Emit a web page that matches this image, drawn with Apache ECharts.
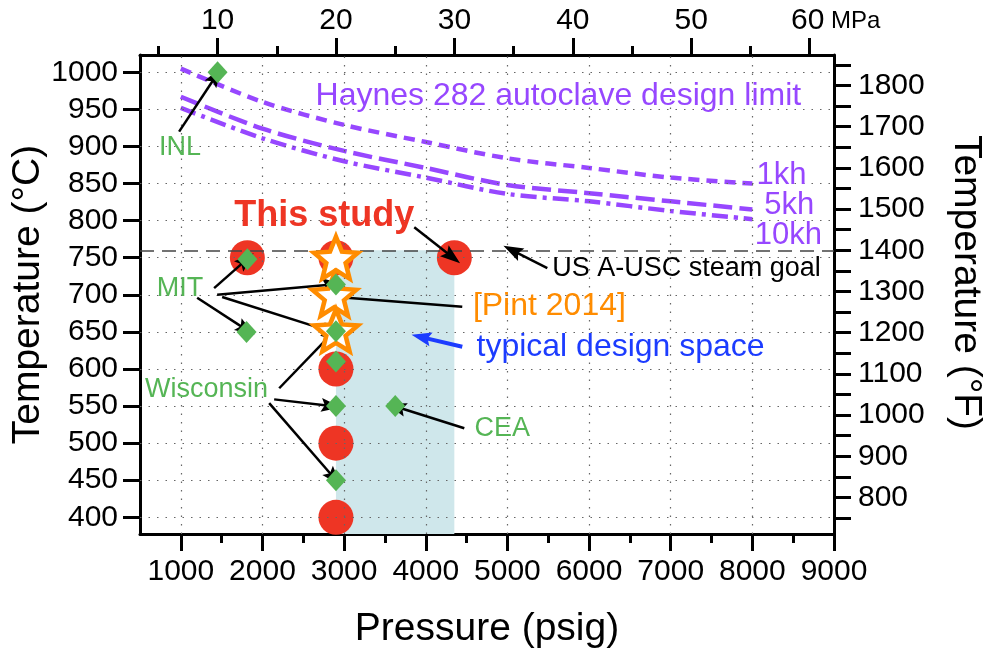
<!DOCTYPE html>
<html>
<head>
<meta charset="utf-8">
<script src="https://cdn.jsdelivr.net/npm/echarts@6/dist/echarts.min.js"></script>
<style>
  html, body { margin: 0; background: #fff; }
  #chart { width: 987px; height: 655px; }
</style>
</head>
<body>
<div id="chart"></div>
<script>
const FONT = '"Liberation Sans", Arial, Helvetica, sans-serif';

// axis extents (psig, degC) and tick values
const psigRange = [500, 9000];
const tempRange = [377.5, 1023.3];
const psigTicks = [1000, 2000, 3000, 4000, 5000, 6000, 7000, 8000, 9000];
const psigMinorTicks = [1500, 2500, 3500, 4500, 5500, 6500, 7500, 8500];
const mpaTicks = [10, 20, 30, 40, 50, 60];
const mpaMinorTicks = [5, 15, 25, 35, 45, 55];
const tempCTicks = [400, 450, 500, 550, 600, 650, 700, 750, 800, 850, 900, 950, 1000];
const tempFTicks = [750, 800, 850, 900, 950, 1000, 1050, 1100, 1150, 1200, 1250, 1300,
  1350, 1400, 1450, 1500, 1550, 1600, 1650, 1700, 1750, 1800, 1850];
const tempFLabels = [800, 900, 1000, 1100, 1200, 1300, 1400, 1500, 1600, 1700, 1800];

// Haynes 282 autoclave design limit curves
const haynesPsig = [1000, 2000, 3000, 4000, 5000, 6000, 7000, 8000];
const haynes1kh = [1005, 960, 929, 906, 884, 871, 858, 850];
const haynes5kh = [967, 924, 894, 871, 848, 837, 826, 815];
const haynes10kh = [952, 911, 880, 858, 836, 826, 813, 802];

// test points [psig, degC]
const thisStudy = [[1815, 750], [2900, 750], [4350, 750], [2900, 600], [2900, 500], [2900, 400]];
const pint2014 = [[2900, 750], [2880, 700], [2900, 652]];
const inl = [[1450, 1000]];
const mit = [[1815, 748], [1805, 650], [2900, 714], [2900, 651]];
const wisconsin = [[2900, 610], [2900, 550], [2900, 450]];
const cea = [[3626, 550]];

const designSpacePsig = [2900, 4350];
const uscGoal = 760;

// annotations: text, psig, degC, style
const notes = [
  ['INL', 990, 898, 'green'],
  ['MIT', 991, 708, 'green'],
  ['Wisconsin', 1315, 572, 'green'],
  ['CEA', 4938, 520, 'green'],
  ['Haynes 282 autoclave design limit', 5624, 968, 'purple'],
  ['1kh', 8357, 861, 'purple'],
  ['5kh', 8453, 821, 'purple'],
  ['10kh', 8440, 780, 'purple'],
  ['This study', 2756, 806, 'red'],
  ['US A-USC steam goal', 7194, 736, 'black'],
  ['[Pint 2014]', 5514, 685, 'orange'],
  ['typical design space', 6386, 629, 'blue']
];

// arrows: from, to (psig, degC)
const arrows = [
  [[979, 920], [1430, 995], 'black'],
  [[1408, 709], [1800, 747], 'black'],
  [[1445, 700], [2853, 714], 'black'],
  [[1506, 697], [2853, 650], 'black'],
  [[1200, 696], [1800, 653], 'black'],
  [[4447, 684], [2915, 697], 'black'],
  [[3859, 791], [4324, 751], 'black'],
  [[5489, 736], [5060, 760], 'black'],
  [[4447, 630], [3945, 643], 'blue'],
  [[2205, 574], [2853, 648], 'black'],
  [[2143, 559], [2842, 550], 'black'],
  [[2082, 554], [2878, 453], 'black'],
  [[4472, 520], [3638, 549], 'black']
];

const colors = {
  green: '#55b555',
  purple: '#9747ff',
  red: '#ee3524',
  orange: '#ff8c00',
  blue: '#1c3cff',
  black: '#000',
  area: '#cfe7eb'
};

const cToF = c => c * 9 / 5 + 32;
const psigToMpa = p => p / 145.038;

const STAR = 'path://M50,0 L62.93,32.2 L97.55,34.55 L70.92,56.8 L79.39,90.45 L50,72 L20.61,90.45 L29.08,56.8 L2.45,34.55 L37.07,32.2 Z';
const ARROW = 'path://M10,0 L20,28 L10,23 L0,28 Z';

const frameLine = { show: true, lineStyle: { color: '#000', width: 3 } };
const tickText = { color: '#000', fontSize: 30, fontFamily: FONT, formatter: v => String(v) };
const nameText = { color: '#000', fontSize: 39, fontFamily: FONT };
const majorTick = (values) => ({ show: true, length: 17, customValues: values, lineStyle: { color: '#000', width: 3 } });
const minorTick = (values) => ({ show: true, length: 9, customValues: values, lineStyle: { color: '#000', width: 3 } });

const chart = echarts.init(document.getElementById('chart'));

const curve = (temps, dash) => ({
  type: 'line',
  data: haynesPsig.map((p, i) => [p, temps[i]]),
  symbol: 'none',
  smooth: 0.3,
  z: 3,
  lineStyle: { color: colors.purple, width: 4.5, type: dash, cap: 'butt', opacity: 1 },
  silent: true
});

const diamonds = data => ({
  type: 'scatter',
  data: data,
  symbol: 'diamond',
  symbolSize: [20, 22],
  itemStyle: { color: colors.green, opacity: 1 },
  z: 6,
  silent: true
});

const option = {
  animation: false,
  backgroundColor: '#fff',
  grid: { left: 140, right: 153, top: 55, bottom: 121, containLabel: false, outerBoundsMode: 'none' },
  xAxis: [
    {
      type: 'value', position: 'bottom', min: psigRange[0], max: psigRange[1],
      axisLine: frameLine,
      axisTick: majorTick(psigTicks),
      axisLabel: Object.assign({ customValues: psigTicks, margin: 23 }, tickText),
      splitLine: { show: false },
      name: 'Pressure (psig)', nameLocation: 'middle', nameGap: 76, nameMoveOverlap: false,
      nameTextStyle: nameText
    },
    {
      type: 'value', position: 'bottom', min: psigRange[0], max: psigRange[1],
      axisLine: { show: false }, axisTick: minorTick(psigMinorTicks),
      axisLabel: { show: false }, splitLine: { show: false }
    },
    {
      type: 'value', position: 'top', min: psigToMpa(psigRange[0]), max: psigToMpa(psigRange[1]),
      axisLine: frameLine,
      axisTick: majorTick(mpaTicks),
      axisLabel: Object.assign({}, tickText, {
        customValues: mpaTicks, margin: 19,
        formatter: v => v === 60 ? '{pad| }{n|60}{u| MPa}' : String(v),
        rich: {
          pad: { width: 52, fontSize: 30, fontFamily: FONT },
          n: { fontSize: 30, fontFamily: FONT, color: '#000' },
          u: { fontSize: 24, fontFamily: FONT, color: '#000' }
        }
      }),
      splitLine: { show: false }
    },
    {
      type: 'value', position: 'top', min: psigToMpa(psigRange[0]), max: psigToMpa(psigRange[1]),
      axisLine: { show: false }, axisTick: minorTick(mpaMinorTicks),
      axisLabel: { show: false }, splitLine: { show: false }
    }
  ],
  yAxis: [
    {
      type: 'value', position: 'left', min: tempRange[0], max: tempRange[1],
      axisLine: frameLine,
      axisTick: majorTick(tempCTicks),
      axisLabel: Object.assign({ customValues: tempCTicks, margin: 22 }, tickText),
      splitLine: { show: false },
      name: 'Temperature (°C)', nameLocation: 'middle', nameGap: 92, nameMoveOverlap: false,
      nameTextStyle: nameText
    },
    {
      type: 'value', position: 'right', min: cToF(tempRange[0]), max: cToF(tempRange[1]),
      axisLine: frameLine,
      axisTick: majorTick(tempFTicks),
      axisLabel: Object.assign({ customValues: tempFLabels, margin: 24 }, tickText),
      splitLine: { show: false },
      name: 'Temperature (°F)', nameLocation: 'middle', nameGap: 112, nameRotate: -90,
      nameMoveOverlap: false,
      nameTextStyle: Object.assign({ padding: [0, 24, 0, 0] }, nameText)
    }
  ],
  series: [
    {
      // dotted grid at the major ticks
      name: 'grid', type: 'scatter', data: [], z: 0, silent: true,
      markLine: {
        silent: true, symbol: ['none', 'none'], label: { show: false },
        lineStyle: { color: '#666', width: 1.2, type: [1.5, 7], opacity: 1 },
        data: psigTicks.slice(0, -1).map(v => ({ xAxis: v }))
          .concat(tempCTicks.map(v => ({ yAxis: v })))
      }
    },
    {
      name: 'design space', type: 'scatter', data: [], z: 1, silent: true,
      markArea: {
        silent: true,
        itemStyle: { color: colors.area, opacity: 1 },
        label: { show: false },
        data: [[{ xAxis: designSpacePsig[0], yAxis: uscGoal }, { xAxis: designSpacePsig[1], yAxis: tempRange[0] }]]
      }
    },
    curve(haynes1kh, [11, 7]),
    curve(haynes5kh, [19, 7]),
    curve(haynes10kh, [16, 6, 4, 6]),
    {
      name: 'This study', type: 'scatter', data: thisStudy, symbol: 'circle', symbolSize: 35,
      itemStyle: { color: colors.red, opacity: 1 }, z: 2, silent: true
    },
    {
      name: 'A-USC goal', type: 'scatter', data: [], z: 3, silent: true,
      markLine: {
        silent: true, symbol: ['none', 'none'], label: { show: false },
        lineStyle: { color: '#444', width: 1.5, type: [14, 8] },
        data: [{ yAxis: uscGoal }]
      }
    },
    {
      name: 'Pint 2014', type: 'scatter', data: pint2014, symbol: STAR, symbolSize: [44, 42],
      itemStyle: { color: '#fff', borderColor: colors.orange, borderWidth: 4.5, opacity: 1 }, z: 5, silent: true
    },
    diamonds(inl),
    diamonds(mit),
    diamonds(wisconsin),
    diamonds(cea),
    {
      name: 'notes', type: 'scatter', symbolSize: 0, z: 8, silent: true,
      itemStyle: { opacity: 1 },
      data: notes.map(n => ({
        value: [n[1], n[2]],
        label: {
          show: true, position: 'inside', formatter: n[0], opacity: 1,
          color: colors[n[3]], fontFamily: FONT, textBorderWidth: 0,
          fontSize: n[3] === 'red' ? 36 : n[3] === 'green' ? 27 : n[3] === 'black' ? 27 : n[3] === 'purple' && n[0].length < 5 ? 31 : 32,
          fontWeight: n[3] === 'red' ? 'bold' : 'normal'
        }
      })),
      markLine: {
        silent: true, symbol: ['none', ARROW], symbolSize: [14, 20],
        label: { show: false },
        lineStyle: { color: '#000', width: 2.5, type: 'solid', opacity: 1 },
        data: arrows.map(a => [
          { coord: a[0], lineStyle: { color: colors[a[2]], width: a[2] === 'blue' ? 4 : 2.5, type: 'solid', opacity: 1 } },
          { coord: a[1] }
        ])
      }
    }
  ]
};

chart.setOption(option);
</script>
</body>
</html>
